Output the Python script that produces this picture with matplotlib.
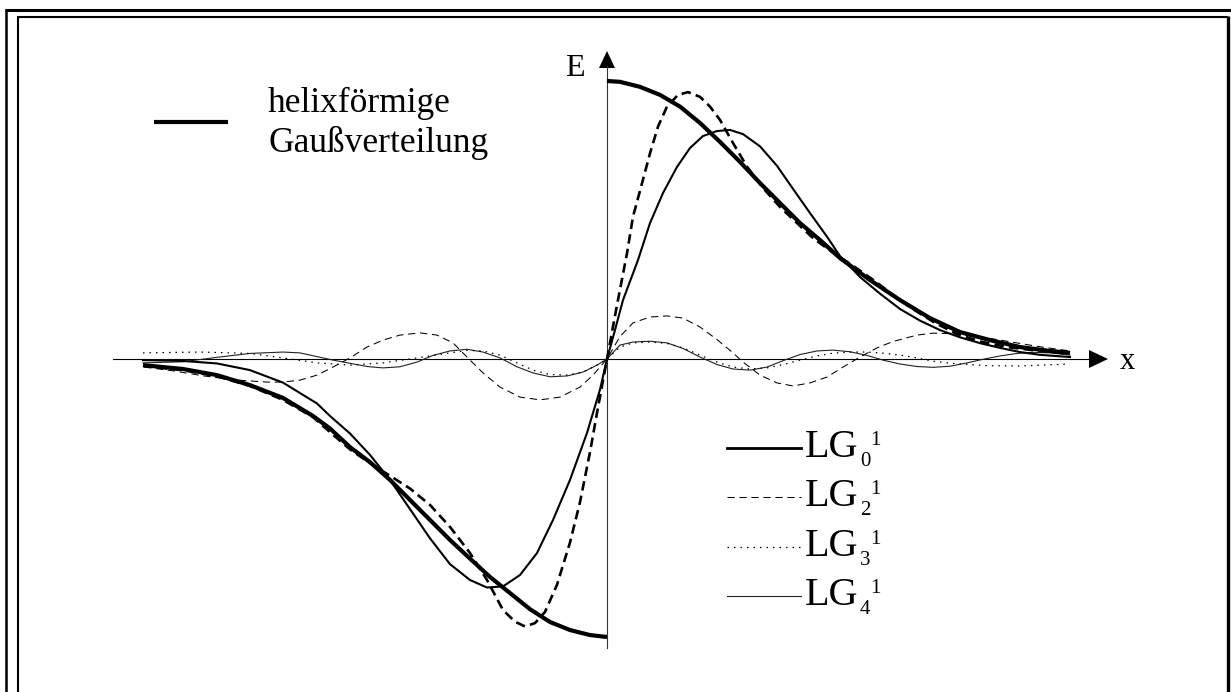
import numpy as np
import matplotlib.pyplot as plt
from matplotlib.patches import Polygon

# radial coordinate (left and right of the beam axis) and field amplitude E
gauss_left_x = [-4.64, -4.24, -3.90, -3.57, -3.24, -2.94, -2.77, -2.57, -2.37, -2.17, -1.97,
                -1.77, -1.57, -1.37, -1.17, -0.97, -0.77, -0.57, -0.37, -0.17, 0.0]
gauss_left_e = [-0.022, -0.036, -0.058, -0.094, -0.140, -0.205, -0.250, -0.317, -0.371, -0.435, -0.507,
                -0.579, -0.651, -0.718, -0.784, -0.842, -0.900, -0.946, -0.975, -0.993, -1.0]
gauss_right_x = [0.0, 0.13, 0.33, 0.53, 0.73, 0.93, 1.13, 1.33, 1.53, 1.73, 1.93,
                 2.13, 2.33, 2.63, 2.93, 3.23, 3.53, 3.83, 4.13, 4.43, 4.63]
gauss_right_e = [1.0, 0.997, 0.979, 0.950, 0.908, 0.849, 0.781, 0.709, 0.633, 0.561, 0.489,
                 0.428, 0.363, 0.284, 0.212, 0.147, 0.097, 0.068, 0.043, 0.029, 0.022]

# sum of the modes (dashed, heavy)
sum_x = [-4.64, -4.24, -3.90, -3.57, -3.24, -2.94, -2.77, -2.57, -2.37, -2.17, -1.97, -1.77, -1.57,
         -1.37, -1.20, -1.04, -0.92, -0.82, -0.72, -0.62, -0.50, -0.37, -0.27, -0.17, -0.10, 0.0,
         0.10, 0.20, 0.26, 0.35, 0.43, 0.51, 0.60, 0.71, 0.81, 0.93, 1.03, 1.13, 1.26, 1.40,
         1.56, 1.73, 1.90, 2.06, 2.25, 2.45, 2.68, 2.88, 3.08, 3.28, 3.50, 3.73, 4.00, 4.30, 4.60]
sum_e = [-0.025, -0.040, -0.062, -0.097, -0.147, -0.209, -0.263, -0.325, -0.375, -0.420, -0.466, -0.525, -0.604,
         -0.698, -0.795, -0.903, -0.945, -0.962, -0.950, -0.910, -0.812, -0.660, -0.515, -0.335, -0.194, 0.0,
         0.194, 0.380, 0.512, 0.632, 0.740, 0.836, 0.908, 0.950, 0.960, 0.943, 0.908, 0.860, 0.777, 0.692,
         0.615, 0.547, 0.489, 0.435, 0.385, 0.338, 0.280, 0.225, 0.175, 0.130, 0.090, 0.063, 0.043, 0.030, 0.020]

lg0_x = [-4.64, -4.24, -3.90, -3.57, -3.24, -2.90, -2.77, -2.57, -2.37, -2.17, -1.97, -1.77, -1.57,
         -1.37, -1.20, -1.04, -0.87, -0.70, -0.54, -0.37, -0.20, -0.07, 0.0,
         0.08, 0.16, 0.31, 0.43, 0.56, 0.70, 0.83, 0.96, 1.10, 1.23, 1.36, 1.53, 1.70, 1.86,
         2.03, 2.20, 2.33, 2.53, 2.73, 2.93, 3.13, 3.33, 3.53, 3.73, 3.93, 4.13, 4.33, 4.63]
lg0_e = [-0.004, -0.007, -0.016, -0.040, -0.085, -0.160, -0.205, -0.268, -0.345, -0.435, -0.540, -0.645, -0.738,
         -0.795, -0.822, -0.818, -0.777, -0.698, -0.579, -0.435, -0.266, -0.110, 0.0,
         0.104, 0.212, 0.356, 0.489, 0.597, 0.691, 0.759, 0.802, 0.820, 0.824, 0.809, 0.765, 0.695, 0.612,
         0.525, 0.440, 0.370, 0.295, 0.235, 0.180, 0.138, 0.104, 0.078, 0.057, 0.040, 0.025, 0.015, 0.007]

lg2_x = [-4.63, -4.33, -4.03, -3.73, -3.40, -3.24, -3.07, -2.90, -2.74, -2.57, -2.40, -2.24, -2.07,
         -1.87, -1.70, -1.54, -1.40, -1.24, -1.07, -0.87, -0.67, -0.47, -0.27, -0.14, 0.0,
         0.13, 0.26, 0.43, 0.60, 0.76, 0.93, 1.10, 1.26, 1.36, 1.53, 1.70, 1.86, 2.03, 2.20,
         2.36, 2.53, 2.70, 2.86, 3.10, 3.26, 3.46, 3.73, 4.03, 4.33, 4.63]
lg2_e = [-0.029, -0.043, -0.061, -0.075, -0.083, -0.083, -0.076, -0.058, -0.029, 0.004, 0.043, 0.068, 0.086,
         0.094, 0.086, 0.058, 0.007, -0.050, -0.101, -0.137, -0.147, -0.137, -0.101, -0.058, 0.0,
         0.081, 0.130, 0.151, 0.155, 0.147, 0.115, 0.070, 0.022, -0.011, -0.058, -0.086, -0.097, -0.086, -0.065,
         -0.029, 0.007, 0.040, 0.063, 0.086, 0.093, 0.091, 0.080, 0.062, 0.044, 0.029]

lg3_x = [-4.64, -4.07, -3.57, -3.24, -2.90, -2.57, -2.24, -1.90, -1.57, -1.40, -1.24, -1.07, -0.90,
         -0.74, -0.57, -0.40, -0.24, -0.10, 0.0,
         0.13, 0.26, 0.43, 0.60, 0.76, 0.93, 1.10, 1.26, 1.43, 1.60, 1.76, 1.93, 2.10, 2.26,
         2.43, 2.60, 2.76, 2.93, 3.10, 3.26, 3.46, 3.80, 4.13, 4.63]
lg3_e = [0.022, 0.025, 0.020, 0.004, -0.014, -0.022, -0.014, 0.004, 0.022, 0.031, 0.029, 0.014, -0.014,
         -0.040, -0.056, -0.058, -0.047, -0.022, 0.0,
         0.043, 0.058, 0.061, 0.056, 0.040, 0.014, -0.011, -0.029, -0.036, -0.032, -0.020, -0.004, 0.011, 0.021,
         0.025, 0.025, 0.021, 0.014, 0.004, -0.008, -0.016, -0.024, -0.025, -0.018]

lg4_x = [-4.64, -4.24, -3.90, -3.57, -3.24, -3.07, -2.74, -2.40, -2.24, -2.07, -1.90, -1.74, -1.57,
         -1.40, -1.24, -1.07, -0.90, -0.74, -0.57, -0.40, -0.24, -0.10, 0.0,
         0.13, 0.26, 0.43, 0.60, 0.76, 0.93, 1.10, 1.26, 1.43, 1.60, 1.76, 1.93, 2.10, 2.26,
         2.43, 2.60, 2.76, 2.93, 3.10, 3.26, 3.43, 3.60, 3.76, 3.93, 4.10, 4.26, 4.43, 4.63]
lg4_e = [-0.014, -0.010, 0.006, 0.020, 0.025, 0.022, -0.004, -0.027, -0.032, -0.028, -0.011, 0.013, 0.029,
         0.035, 0.025, 0.004, -0.028, -0.050, -0.064, -0.061, -0.047, -0.022, 0.0,
         0.050, 0.061, 0.064, 0.058, 0.038, 0.007, -0.020, -0.036, -0.040, -0.029, -0.006, 0.016, 0.029, 0.032,
         0.026, 0.013, -0.004, -0.018, -0.027, -0.030, -0.026, -0.014, -0.001, 0.011, 0.020, 0.024, 0.022, 0.014]

mode_labels = ["0", "2", "3", "4"]

W, H = 1231, 692
X0, Y0 = 607, 359      # origin of the axes cross in pixels
SX, SY = 100, 278      # pixels per unit of x and of E


def at(px, py):
    return (px - X0) / SX, (Y0 - py) / SY


fig = plt.figure(figsize=(W / 100, H / 100), dpi=100)
ax = fig.add_axes([0, 0, 1, 1])
ax.set_xlim(-X0 / SX, (W - X0) / SX)
ax.set_ylim((Y0 - H) / SY, Y0 / SY)
ax.axis("off")

serif = "Liberation Serif"


# double frame
def frame_line(p1, p2, lw):
    (x1, y1), (x2, y2) = at(*p1), at(*p2)
    ax.plot([x1, x2], [y1, y2], color="black", lw=lw, solid_capstyle="butt", clip_on=False)


frame_line((6, 9), (6, 692), 1.8)
frame_line((5, 10), (1231, 10), 2.2)
frame_line((18, 17), (18, 692), 1.5)
frame_line((17, 17), (1228, 17), 1.5)
frame_line((1228, 16), (1228, 692), 2.4)

# axes cross with arrow heads
ax.plot([at(113, 0)[0], at(1092, 0)[0]], [0, 0], color="black", lw=0.8)
ax.plot([0, 0], [at(0, 648)[1], at(0, 66)[1]], color="#333333", lw=0.8)
ax.add_patch(Polygon([at(1089, 350), at(1108, 359), at(1089, 368)], closed=True, color="black", lw=0))
ax.add_patch(Polygon([at(599, 68), at(607, 51), at(615, 68)], closed=True, color="black", lw=0))
ax.text(*at(1120, 362), "x", family=serif, fontsize=22, va="center", ha="left")
ax.text(*at(565, 68), "E", family=serif, fontsize=23, va="center", ha="left")

# curves
styles = {
    "gauss": dict(color="black", lw=3.0, solid_capstyle="butt"),
    "sum": dict(color="black", lw=1.9, dashes=(3.6, 2.0)),
    "lg0": dict(color="black", lw=1.5),
    "lg2": dict(color="black", lw=0.75, dashes=(7.0, 4.5)),
    "lg3": dict(color="black", lw=0.9, dashes=(1.2, 4.0)),
    "lg4": dict(color="#222222", lw=0.8),
}
ax.plot(lg4_x, lg4_e, **styles["lg4"])
ax.plot(lg3_x, lg3_e, **styles["lg3"])
ax.plot(lg2_x, lg2_e, **styles["lg2"])
ax.plot(lg0_x, lg0_e, **styles["lg0"])
ax.plot(sum_x, sum_e, **styles["sum"])
ax.plot(gauss_left_x, gauss_left_e, **styles["gauss"])
ax.plot(gauss_right_x, gauss_right_e, **styles["gauss"])

# legend: helical Gaussian
(lx1, ly), (lx2, _) = at(154, 122), at(228, 122)
ax.plot([lx1, lx2], [ly, ly], color="black", lw=3.0, solid_capstyle="butt")
ax.text(*at(268, 112), "helixförmige", family=serif, fontsize=25.5, va="baseline", ha="left")
ax.text(*at(268, 152), "Gaußverteilung", family=serif, fontsize=25.5, va="baseline", ha="left")

# legend: Laguerre-Gauss modes
rows = [448, 497, 547, 596]
keys = ["lg0", "lg2", "lg3", "lg4"]
for key, p, ry in zip(keys, mode_labels, rows):
    (x1, y1), (x2, _) = at(727, ry), at(801, ry)
    st = dict(styles[key])
    if key == "lg0":
        st["lw"] = 2.0
    ax.plot([x1, x2], [y1, y1], **st)
    ax.text(*at(805, ry + 9), "LG", family=serif, fontsize=29, va="baseline", ha="left")
    ax.text(*at(860, ry + 18), p, family=serif, fontsize=15, va="baseline", ha="left")
    ax.text(*at(870, ry - 3), "1", family=serif, fontsize=15, va="baseline", ha="left")

fig.savefig("out.png", dpi=100)
